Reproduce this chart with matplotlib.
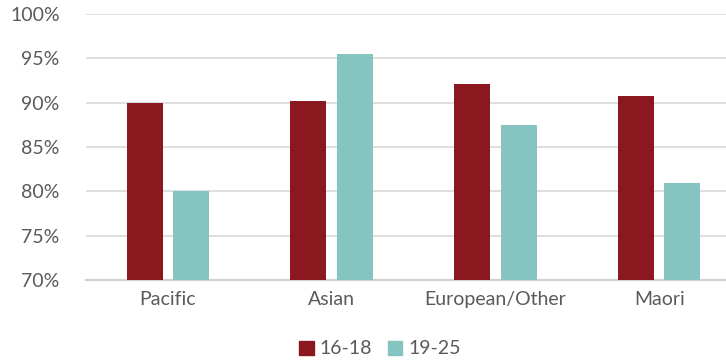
import numpy as np
import matplotlib.pyplot as plt
from matplotlib.patches import Patch

plt.rcParams['font.family'] = ['Lato', 'DejaVu Sans']

categories = ['Pacific', 'Asian', 'European/Other', 'Maori']
series_names = ['16-18', '19-25']
vals_16_18 = [90.0, 90.2, 92.1, 90.8]
vals_19_25 = [80.0, 95.5, 87.5, 80.9]
yticks = [70, 75, 80, 85, 90, 95, 100]

red = '#8B181E'
teal = '#85C4C0'
grey_txt = '#5A5A5A'

fig = plt.figure(figsize=(7.26, 3.62), dpi=100)
# axes runs slightly past the right edge, as in the original
ax = fig.add_axes([86/726, 82/362, 655/726, 266/362])

x = np.arange(len(categories))
w = 0.22
ax.bar(x - 0.142, vals_16_18, w, color=red, zorder=3)
ax.bar(x + 0.142, vals_19_25, w, color=teal, zorder=3)

ax.set_xlim(-0.5, 3.5)
ax.set_ylim(70, 100)
ax.set_yticks(yticks)
ax.set_yticklabels([f'{v}%' for v in yticks], fontsize=14, color=grey_txt)
ax.set_xticks(x)
ax.set_xticklabels(categories, fontsize=14, color=grey_txt)
ax.tick_params(axis='both', length=0)
ax.tick_params(axis='y', pad=19)
ax.tick_params(axis='x', pad=8)

ax.grid(axis='y', color='#D9D9D9', linewidth=1.2, zorder=0)
for s in ['top', 'right', 'left']:
    ax.spines[s].set_visible(False)
ax.spines['bottom'].set_color('#D0D0D0')
ax.spines['bottom'].set_linewidth(1.5)

handles = [Patch(color=red), Patch(color=teal)]
fig.legend(handles, series_names, loc='center', bbox_to_anchor=(380/726, 1 - 349/362),
           ncol=2, frameon=False, fontsize=14, labelcolor=grey_txt,
           handlelength=0.75, handleheight=0.75, handletextpad=0.3, columnspacing=0.8)

plt.savefig('out.png', dpi=100)
